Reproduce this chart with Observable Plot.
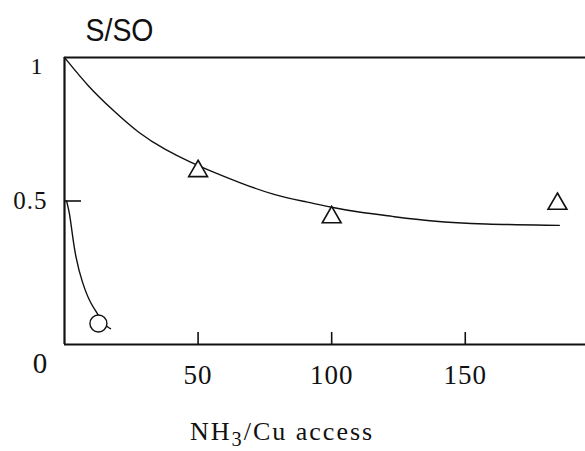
<!DOCTYPE html>
<html>
<head>
<meta charset="utf-8">
<script src="https://cdn.jsdelivr.net/npm/d3@7"></script>
<script src="https://cdn.jsdelivr.net/npm/@observablehq/plot@0.6"></script>
<style>
  html, body { margin: 0; padding: 0; background: #fff; }
  #wrap { position: relative; width: 585px; height: 451px; overflow: hidden; background: #fff; }
  #wrap svg text { letter-spacing: 1px; }
  #xlabel { position: absolute; left: 190px; top: 419px; font-family: "Liberation Serif", serif; font-size: 26px; line-height: 26px; letter-spacing: 2px; color: #111; white-space: nowrap; }
  #xlabel sub { font-size: 0.78em; vertical-align: -0.3em; line-height: 0; }
</style>
</head>
<body>
<div id="wrap"></div>
<script>
// ---- data ----
const titleText = "S/SO";
const xTickValues = [50, 100, 150];
const xTickLabels = ["50", "100", "150"];
const yTickValues = [0, 0.5, 1];
const yTickLabels = ["0", "0.5", "1"];

// upper fitted curve
const upperX = [0, 9, 18, 27.7, 37.9, 47.2, 54, 66, 78.4, 91.1, 99.7, 109.9, 122.2, 137.2, 156, 185.2];
const upperY = [1, 0.897, 0.817, 0.736, 0.677, 0.635, 0.607, 0.562, 0.52, 0.496, 0.478, 0.461, 0.447, 0.429, 0.419, 0.415];

// lower fitted curve
const lowerX = [0.8, 1.9, 2.6, 4.1, 6.7, 9.7, 12.4, 14.5, 17.2];
const lowerY = [0.5, 0.457, 0.408, 0.304, 0.213, 0.143, 0.108, 0.07, 0.055];

// measured points
const triangleX = [50, 100, 184.5];
const triangleY = [0.604, 0.443, 0.49];
const circleX = [12.7];
const circleY = [0.073];

// ---- tables ----
const upper = upperX.map((x, i) => ({x, y: upperY[i]}));
const lower = lowerX.map((x, i) => ({x, y: lowerY[i]}));
const triangles = triangleX.map((x, i) => ({x, y: triangleY[i]}));
const circles = circleX.map((x, i) => ({x, y: circleY[i]}));
const xTicks = xTickValues.map((v, i) => ({v, label: xTickLabels[i]}));
const yTicks = yTickValues.map((v, i) => ({v, label: yTickLabels[i]}));

const ink = "#111";

const chart = Plot.plot({
  width: 585,
  height: 410,
  marginLeft: 64,
  marginRight: 0,
  marginTop: 57,
  marginBottom: 66,
  x: {domain: [0, 195], axis: null},
  y: {domain: [0, 1], axis: null},
  style: {fontFamily: "'Liberation Serif', serif", background: "#fff", color: ink, overflow: "visible"},
  marks: [
    Plot.ruleY([1], {stroke: ink, strokeWidth: 2}),
    Plot.ruleY([0], {stroke: ink, strokeWidth: 2}),
    Plot.ruleX([0], {stroke: ink, strokeWidth: 2.2}),
    Plot.axisX({ticks: xTickValues, anchor: "bottom", tickSize: -12, tickFormat: () => "", stroke: ink, strokeWidth: 1.6}),
    Plot.axisY({ticks: [0.5], anchor: "left", tickSize: -17, tickFormat: () => "", stroke: ink, strokeWidth: 1.6}),
    Plot.text(xTicks, {x: "v", text: "label", frameAnchor: "bottom", dy: 39, fontSize: 27, fill: ink}),
    Plot.text(yTicks.filter(d => d.v === 1), {y: "v", text: "label", frameAnchor: "left", textAnchor: "end", dx: -21, dy: 9, fontSize: 24, fill: ink}),
    Plot.text(yTicks.filter(d => d.v === 0.5), {y: "v", text: "label", frameAnchor: "left", textAnchor: "end", dx: -17, dy: 0, fontSize: 25, fill: ink}),
    Plot.text(yTicks.filter(d => d.v === 0), {y: "v", text: "label", frameAnchor: "left", textAnchor: "middle", dx: -24, dy: 19, fontSize: 29, fill: ink}),
    Plot.text([titleText], {text: d => d, frameAnchor: "top-left", dx: 21, dy: -17, textAnchor: "start", lineAnchor: "bottom", fontSize: 31, fontFamily: "'Liberation Sans', Arial, sans-serif", fill: ink}),
    Plot.line(upper, {x: "x", y: "y", curve: "basis", stroke: ink, strokeWidth: 1.4}),
    Plot.line(lower, {x: "x", y: "y", curve: "basis", stroke: ink, strokeWidth: 1.4}),
    Plot.dot(triangles, {x: "x", y: "y", symbol: "triangle", r: 7, stroke: ink, fill: "#fff", strokeWidth: 1.6}),
    Plot.dot(circles, {x: "x", y: "y", symbol: "circle", r: 8.5, stroke: ink, fill: "#fff", strokeWidth: 1.4})
  ]
});

const wrap = document.getElementById("wrap");
wrap.appendChild(chart);
d3.select(chart).selectAll("text")
  .filter(function () { return this.textContent === titleText; })
  .style("letter-spacing", "0px")
  .attr("textLength", 68)
  .attr("lengthAdjust", "spacingAndGlyphs");

const xl = document.createElement("div");
xl.id = "xlabel";
xl.innerHTML = "NH<sub>3</sub>/Cu access";
wrap.appendChild(xl);
</script>
</body>
</html>
